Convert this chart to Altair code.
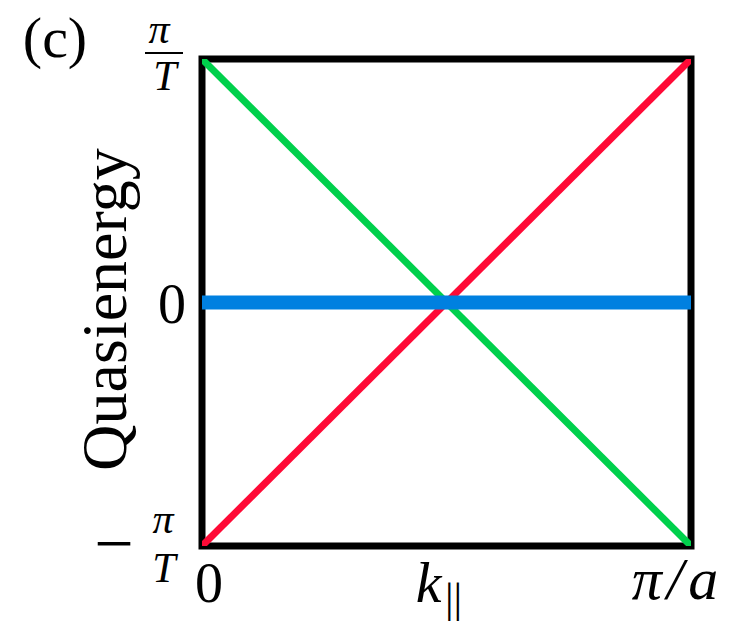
import altair as alt
import pandas as pd

# Band dispersion over the half Brillouin zone k in [0, pi/a] (scaled to [0, 1]),
# quasienergy in units of pi/T.
k_ends = [0.0, 1.0]
e_red = [-1.0, 1.0]
e_green = [1.0, -1.0]
e_blue = [0.0, 0.0]

bands = pd.DataFrame({
    "k": k_ends * 3,
    "E": e_red + e_green + e_blue,
    "band": ["red"] * 2 + ["green"] * 2 + ["blue"] * 2,
})

# Tick positions and label texts
x_ticks = [0.0, 0.5, 1.0]
x_tick_text = ["0", "k", "π\u200a/\u200aa"]
y_ticks = [1.0, 0.0, -1.0]
panel_tag = "(c)"
axis_title = "Quasienergy"

SERIF = "Liberation Serif"

x_scale = alt.Scale(domain=[0, 1], nice=False, zero=False)
y_scale = alt.Scale(domain=[-1, 1], nice=False, zero=False)

y_axis = alt.Axis(
    title=axis_title, labels=False, ticks=False, domain=False, grid=False,
    titleFont=SERIF, titleFontSize=64, titleFontWeight="normal", titleColor="black",
    titleAngle=270, titleAlign="center", titleBaseline="alphabetic",
    titleX=-77, titleY=250,
)

X = alt.X("k:Q", scale=x_scale, axis=None)
Y = alt.Y("E:Q", scale=y_scale, axis=y_axis)


def band_line(name, color, width):
    return (
        alt.Chart(bands)
        .transform_filter(alt.datum.band == name)
        .mark_line(color=color, strokeWidth=width, strokeCap="butt", clip=True)
        .encode(x=X, y=Y, order="k:Q")
    )


def label(k, e, text, size, dx, dy, italic=False, align="center"):
    df = pd.DataFrame({"k": [k], "E": [e], "t": [text]})
    return (
        alt.Chart(df)
        .mark_text(font=SERIF, fontSize=size, fontStyle="italic" if italic else "normal",
                   align=align, baseline="alphabetic", dx=dx, dy=dy, color="black")
        .encode(x=X, y=Y, text="t:N")
    )


red = band_line("red", "#ff0a36", 7)
green = band_line("green", "#00d04c", 7)
blue = band_line("blue", "#0080e0", 14)

labels = [
    label(0.0, y_ticks[0], panel_tag, 58, -147, -2),
    # +pi/T
    label(0.0, y_ticks[0], "π", 42, -43, -16, italic=True),
    label(0.0, y_ticks[0], "T", 42, -37, 31, italic=True),
    # 0
    label(0.0, y_ticks[1], "0", 56, -16, 20, align="right"),
    # -pi/T
    label(0.0, y_ticks[2], "−", 70, -88, 21),
    label(0.0, y_ticks[2], "π", 42, -39, -13, italic=True),
    label(0.0, y_ticks[2], "T", 42, -38, 36, italic=True),
    # x tick labels
    label(x_ticks[0], -1.0, x_tick_text[0], 56, 7, 56),
    label(x_ticks[1], -1.0, x_tick_text[1], 58, -18, 56, italic=True),
    label(x_ticks[1], -1.0, "||", 43, 7, 66),
    label(x_ticks[2], -1.0, x_tick_text[2], 60, -16, 53, italic=True),
]

frac_bar = (
    alt.Chart(pd.DataFrame({"E": [1.0]}))
    .mark_rule(color="black", strokeWidth=2)
    .encode(x=alt.value(-57), x2=alt.value(-19), y=alt.value(-6))
)

chart = (
    alt.layer(red, green, blue, frac_bar, *labels)
    .properties(
        width=489, height=487,
        autosize=alt.AutoSizeParams(type="none"),
        padding={"left": 202, "top": 59, "right": 44, "bottom": 80},
        background="white",
    )
    .configure_view(stroke="black", strokeWidth=7)
)

chart.save("out.html", embed_options={"renderer": "svg", "actions": False})
